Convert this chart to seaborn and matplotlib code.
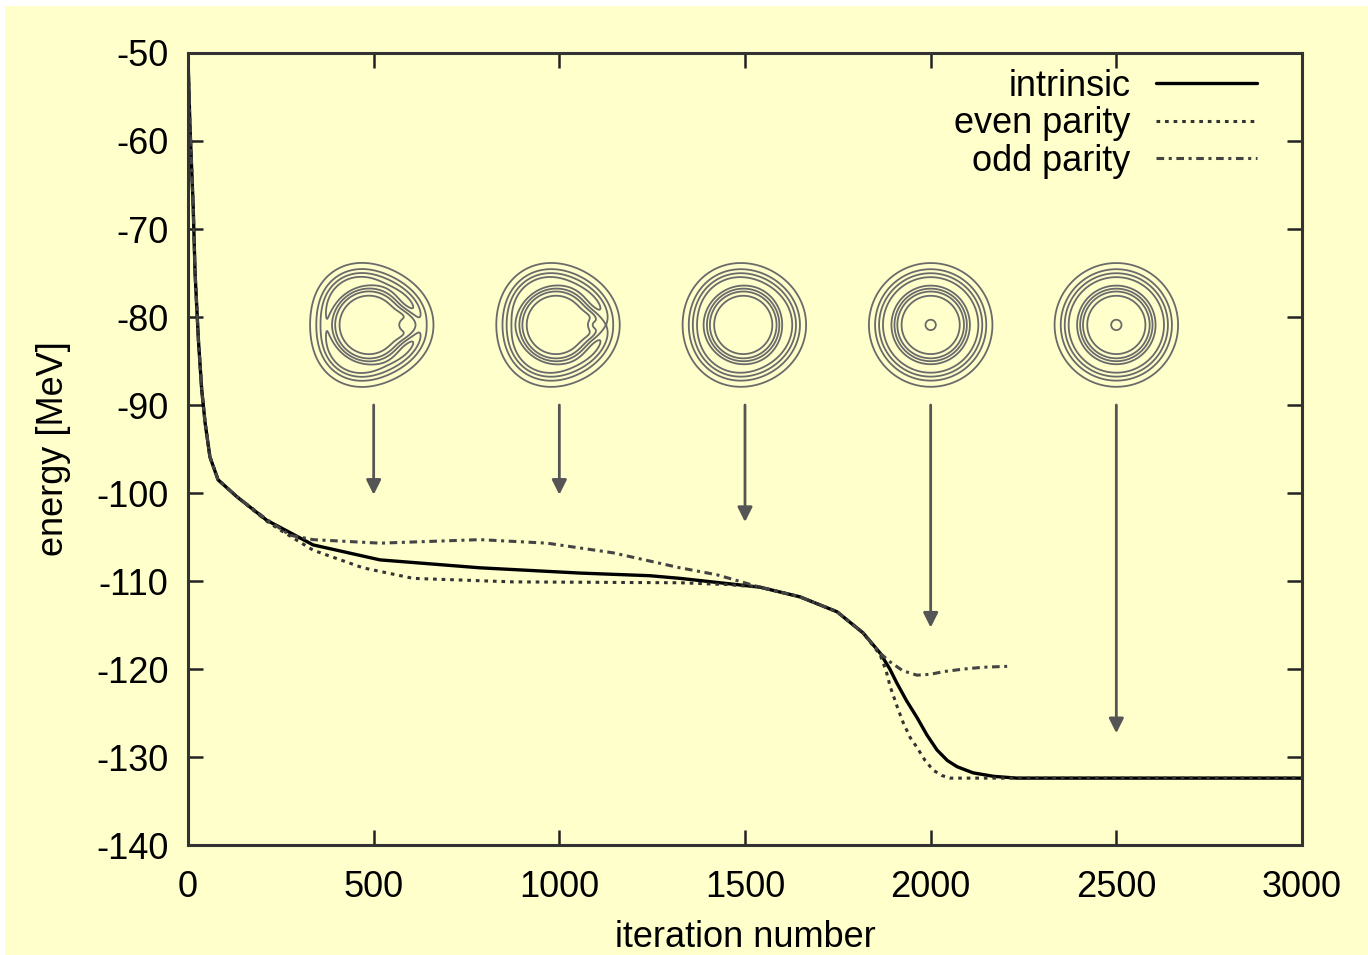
import numpy as np
import pandas as pd
import matplotlib
matplotlib.use("Agg")
import matplotlib.pyplot as plt
import seaborn as sns
from matplotlib.patches import Rectangle

# energy curves (iteration, MeV)
it_intr = [0, 5, 14, 19, 28, 37, 46, 59, 81, 131, 212, 248, 337, 517, 786, 1056, 1244, 1325,
           1540, 1648, 1748, 1818, 1864, 1890, 1909, 1935, 1963, 1990, 2017, 2045, 2071, 2114,
           2170, 2232, 3000]
e_intr = [-50.5, -58.0, -67.5, -75.0, -82.6, -88.3, -92.0, -95.9, -98.5, -100.4, -103.1, -103.9,
          -105.9, -107.6, -108.5, -109.1, -109.4, -109.7, -110.7, -111.8, -113.5, -115.9, -118.2,
          -120.0, -121.6, -123.6, -125.5, -127.5, -129.2, -130.4, -131.1, -131.8, -132.2, -132.4,
          -132.4]

it_even = [0, 5, 14, 19, 28, 37, 46, 59, 81, 131, 212, 248, 337, 471, 606, 875, 1325, 1450,
           1540, 1648, 1748, 1818, 1864, 1880, 1891, 1910, 1926, 1945, 1963, 1985, 2007, 2030,
           2052, 3000]
e_even = [-50.5, -58.0, -67.5, -75.0, -82.6, -88.3, -92.0, -95.9, -98.5, -100.4, -103.2, -104.2,
          -106.5, -108.5, -109.7, -110.1, -110.2, -110.4, -110.7, -111.8, -113.5, -115.9, -118.4,
          -120.2, -122.0, -124.3, -126.1, -127.8, -128.9, -130.4, -131.5, -132.1, -132.4, -132.4]

it_odd = [0, 5, 14, 19, 28, 37, 46, 59, 81, 131, 212, 275, 337, 517, 786, 967, 1145, 1325,
          1425, 1540, 1648, 1748, 1818, 1864, 1891, 1925, 1963, 2000, 2034, 2090, 2141, 2206]
e_odd = [-50.5, -58.0, -67.5, -75.0, -82.6, -88.3, -92.0, -95.9, -98.5, -100.4, -103.0, -104.8,
         -105.3, -105.7, -105.3, -105.7, -106.8, -108.5, -109.3, -110.7, -111.8, -113.5, -115.9,
         -118.2, -119.2, -120.2, -120.7, -120.6, -120.3, -120.0, -119.8, -119.7]

# arrows below the density snapshots
arrow_x = [500, 1000, 1500, 2000, 2500]
arrow_top = [-90, -90, -90, -90, -90]
arrow_end = [-100.2, -100.2, -103.3, -115.3, -127.3]

# snapshot shape parameters: bulge, neck, dot
snap_bulge = [1.0, 0.7, 0.35, 0.0, 0.0]
snap_neck = [1.0, 0.8, 0.0, 0.0, 0.0]
snap_dot = [0.62, 0.64, None, 0.0, 0.0]

labels = ["intrinsic", "even parity", "odd parity"]

bg = "#ffffcc"
sns.set_theme(style="ticks")
plt.rcParams["font.family"] = ["Liberation Sans", "DejaVu Sans"]
plt.rcParams["font.size"] = 26
plt.rcParams["axes.unicode_minus"] = False
plt.rcParams["text.color"] = "black"
plt.rcParams["xtick.labelcolor"] = "black"
plt.rcParams["ytick.labelcolor"] = "black"
plt.rcParams["axes.labelcolor"] = "black"

fig = plt.figure(figsize=(13.68, 9.55), dpi=100)
fig.patch.set_facecolor("white")
fig.patches.append(Rectangle((5 / 1368, 0), 1, 1 - 6 / 955, transform=fig.transFigure,
                             facecolor=bg, edgecolor="none", zorder=-10))
ax = fig.add_axes([188 / 1368, 1 - 845 / 955, 1114 / 1368, 792 / 955])
ax.set_facecolor(bg)

df_i = pd.DataFrame({"it": it_intr, "E": e_intr})
df_e = pd.DataFrame({"it": it_even, "E": e_even})
df_o = pd.DataFrame({"it": it_odd, "E": e_odd})

sns.lineplot(data=df_i, x="it", y="E", ax=ax, color="black", lw=2.4, label=labels[0],
             sort=False, estimator=None)
sns.lineplot(data=df_e, x="it", y="E", ax=ax, color="#333333", lw=2.2, label=labels[1],
             sort=False, estimator=None, linestyle=(0, (1.2, 1.6)))
sns.lineplot(data=df_o, x="it", y="E", ax=ax, color="#444444", lw=2.2, label=labels[2],
             sort=False, estimator=None, linestyle=(0, (2.5, 1.5, 1, 1.5)))

for x, y0, y1 in zip(arrow_x, arrow_top, arrow_end):
    ax.annotate("", xy=(x, y1), xytext=(x, y0),
                arrowprops=dict(arrowstyle="-|>", color="#555555", lw=2,
                                mutation_scale=22, shrinkA=0, shrinkB=0))

# density contour snapshots
g = np.linspace(-1.15, 1.15, 260)
X, Y = np.meshgrid(g, g)


def sig(z):
    return 1 / (1 + np.exp(-z))


for x, b, n, d in zip(arrow_x, snap_bulge, snap_neck, snap_dot):
    Xs = X + 0.12 * b
    R = np.hypot(Xs, Y)
    T = np.arctan2(Y, Xs)
    ro = 0.8 + b * (0.05 * np.cos(T) + 0.04 * np.cos(3 * T))
    ri = 0.6 + b * 0.04 * np.cos(T) + n * 0.2 * np.exp(-(T / 0.35) ** 2)
    f = sig((R - ri) / 0.06) * sig((ro - R) / 0.09)
    if d is not None:
        f = f + 0.2 * np.exp(-((Xs - d) ** 2 + Y ** 2) / 0.1 ** 2)
    ins = ax.inset_axes([x - 175, -88.3, 350, 14.8], transform=ax.transData)
    ins.contour(X, Y, f, levels=[0.1, 0.25, 0.4, 0.55, 0.7, 0.85], colors="#6a6a6a",
                linewidths=1.3)
    ins.set_xlim(-1.05, 1.05)
    ins.set_ylim(-1.05, 1.05)
    ins.axis("off")
    ins.patch.set_alpha(0)

ax.set_xlim(0, 3000)
ax.set_ylim(-140, -50)
ax.set_xticks(range(0, 3001, 500))
ax.set_yticks(range(-140, -49, 10))
ax.tick_params(direction="in", length=11, width=1.8, color="#222222",
               top=True, right=True, labelsize=26, pad=14)
ax.tick_params(axis="x", pad=18)
for s in ax.spines.values():
    s.set_linewidth(2.2)
    s.set_color("#333333")
ax.set_xlabel("iteration number", fontsize=26, labelpad=11)
ax.set_ylabel("energy [MeV]", fontsize=26, labelpad=18)

leg = ax.legend(loc="upper right", bbox_to_anchor=((1257 - 188) / 1114, 0.98),
                frameon=False, markerfirst=False, fontsize=26, handlelength=2.8,
                handletextpad=0.7, labelspacing=0.07, borderaxespad=0, borderpad=0)

fig.savefig("out.png", dpi=100, facecolor=fig.get_facecolor())
